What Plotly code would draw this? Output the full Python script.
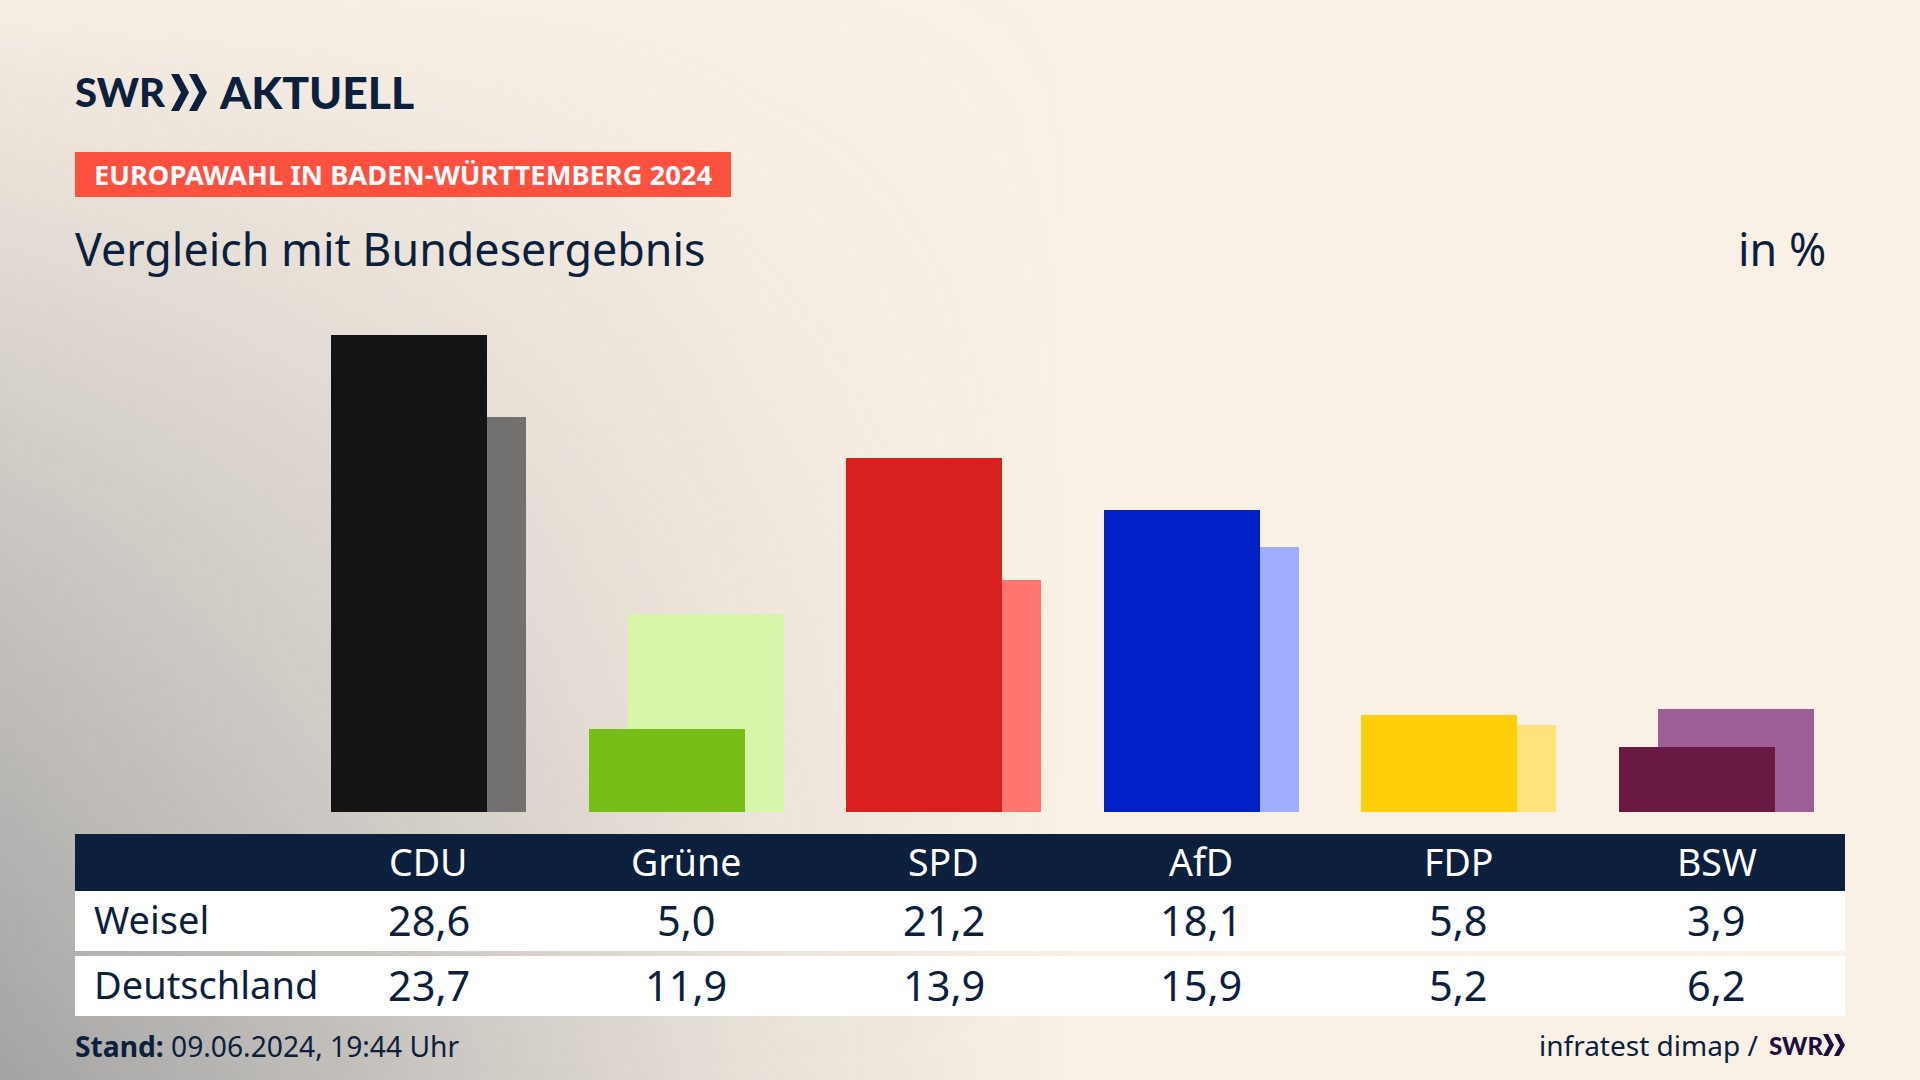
import base64
import plotly.graph_objects as go

parties = ["CDU", "Grüne", "SPD", "AfD", "FDP", "BSW"]
weisel = [28.6, 5.0, 21.2, 18.1, 5.8, 3.9]
deutschland = [23.7, 11.9, 13.9, 15.9, 5.2, 6.2]
row_names = ["Weisel", "Deutschland"]

colors_front = ["#141414", "#78BE19", "#D9201E", "#0020C8", "#FFCF0A", "#6A1A42"]
colors_back = ["#73716F", "#D8F6A9", "#FF7570", "#9FADFF", "#FFE27A", "#9D5F98"]

W, H = 1920, 1080
NAVY = "#0C1F3D"
FONT = "Noto Sans"
LOGO_FONT = "Lato"

# pixel geometry of the plot
base_px = 812
unit_px = 16.68
slot_px = 257.6
first_px = 428.5


def px(x):
    return x / W


def py(y):
    return 1 - y / H


# grey corner glow: horizontal fade masked by a vertical fade
svg = f"""<svg xmlns="http://www.w3.org/2000/svg" width="{W}" height="{H}">
<defs>
<linearGradient id="h" gradientUnits="userSpaceOnUse" x1="0" y1="0" x2="1080" y2="0">
<stop offset="0" stop-color="#a3a3a3" stop-opacity="1"/>
<stop offset="0.35" stop-color="#a3a3a3" stop-opacity="0.62"/>
<stop offset="0.7" stop-color="#a3a3a3" stop-opacity="0.2"/>
<stop offset="1" stop-color="#a3a3a3" stop-opacity="0"/>
</linearGradient>
<linearGradient id="v" gradientUnits="userSpaceOnUse" x1="0" y1="1080" x2="0" y2="-40">
<stop offset="0" stop-color="#fff" stop-opacity="1"/>
<stop offset="0.5" stop-color="#fff" stop-opacity="0.55"/>
<stop offset="1" stop-color="#fff" stop-opacity="0"/>
</linearGradient>
<mask id="m"><rect width="{W}" height="{H}" fill="url(#v)"/></mask>
</defs>
<rect width="{W}" height="{H}" fill="#FAF1E6"/>
<rect width="{W}" height="{H}" fill="url(#h)" mask="url(#m)"/>
</svg>"""
bg_uri = "data:image/svg+xml;base64," + base64.b64encode(svg.encode()).decode()

fig = go.Figure()

fig.add_trace(go.Bar(
    x=parties, y=deutschland, name="Deutschland",
    marker=dict(color=colors_back, line_width=0),
    width=156 / slot_px, offset=-58.5 / slot_px,
    hoverinfo="skip",
))
fig.add_trace(go.Bar(
    x=parties, y=weisel, name="Weisel",
    marker=dict(color=colors_front, line_width=0),
    width=156 / slot_px, offset=-97.5 / slot_px,
    hoverinfo="skip",
))

shapes = []


def rect(x0, y0, x1, y1, color):
    shapes.append(dict(type="rect", xref="paper", yref="paper", layer="below",
                       x0=px(x0), x1=px(x1), y0=py(y0), y1=py(y1),
                       fillcolor=color, line_width=0))


def chevrons(x0, top, bottom, w, t, color):
    # two arrow heads side by side, like in the SWR logo
    mid = (top + bottom) / 2
    for x in (x0, x0 + w):
        pts = [(x, top), (x + t, top), (x + w, mid), (x + t, bottom), (x, bottom), (x + w - t, mid)]
        path = "M " + " L ".join(f"{px(a):.5f},{py(b):.5f}" for a, b in pts) + " Z"
        shapes.append(dict(type="path", xref="paper", yref="paper", path=path,
                           fillcolor=color, line_width=0))


rect(75, 152, 731, 197, "#FF5040")
rect(75, 834, 1845, 891, NAVY)
rect(75, 891, 1845, 951, "#FFFFFF")
rect(75, 956, 1845, 1016, "#FFFFFF")
chevrons(171, 74, 111, 18, 8, NAVY)
chevrons(1823, 1034, 1056, 11, 5, "#1E0F40")

notes = []


def label(x, y, text, size, color=NAVY, anchor="left", family=FONT, weight=400):
    notes.append(dict(xref="paper", yref="paper", x=px(x), y=py(y), text=text,
                      showarrow=False, xanchor=anchor, yanchor="middle",
                      font=dict(family=family, size=size, color=color, weight=weight)))


label(73, 92, "SWR", 40, family=LOGO_FONT, weight=900)
label(217, 92, "AKTUELL", 44.5, family=LOGO_FONT, weight=900)
label(92, 175, "<b>EUROPAWAHL IN BADEN-WÜRTTEMBERG 2024</b>", 27.3, color="#FFFFFF")
label(73, 248, "Vergleich mit Bundesergebnis", 44.8)
label(1828, 248, "in %", 44.8, anchor="right")

for name, y in zip(row_names, [919, 984]):
    label(92, y, name, 38)

for i, party in enumerate(parties):
    notes.append(dict(xref="x", yref="paper", x=party, y=py(861), text=party, showarrow=False,
                      yanchor="middle", font=dict(family=FONT, size=37.5, color="#FFFFFF")))
    for vals, y in ((weisel, 920), (deutschland, 985)):
        notes.append(dict(xref="x", yref="paper", x=party, y=py(y),
                          text=f"{vals[i]:.1f}".replace(".", ","), showarrow=False,
                          yanchor="middle", font=dict(family=FONT, size=41.5, color=NAVY)))

label(73, 1046, "<b>Stand:</b> 09.06.2024, 19:44 Uhr", 28.2)
label(1760, 1045, "infratest dimap /", 28, anchor="right")
label(1767, 1045, "SWR", 24, color="#1E0F40", family=LOGO_FONT, weight=900)

fig.update_layout(
    width=W, height=H,
    margin=dict(l=0, r=0, t=0, b=0),
    paper_bgcolor="#FAF1E6",
    plot_bgcolor="rgba(0,0,0,0)",
    barmode="overlay",
    bargap=0,
    showlegend=False,
    xaxis=dict(visible=False, type="category", categoryorder="array", categoryarray=parties,
               range=[-first_px / slot_px, (W - first_px) / slot_px], domain=[0, 1]),
    yaxis=dict(visible=False, range=[0, base_px / unit_px], domain=[py(base_px), 1]),
    images=[dict(source=bg_uri, xref="paper", yref="paper", x=0, y=1, sizex=1, sizey=1,
                 xanchor="left", yanchor="top", sizing="stretch", layer="below")],
    shapes=shapes,
    annotations=notes,
)

fig.write_html("out.html", config={"displayModeBar": False},
               post_script="document.body.style.margin='0';document.body.style.overflow='hidden';")
